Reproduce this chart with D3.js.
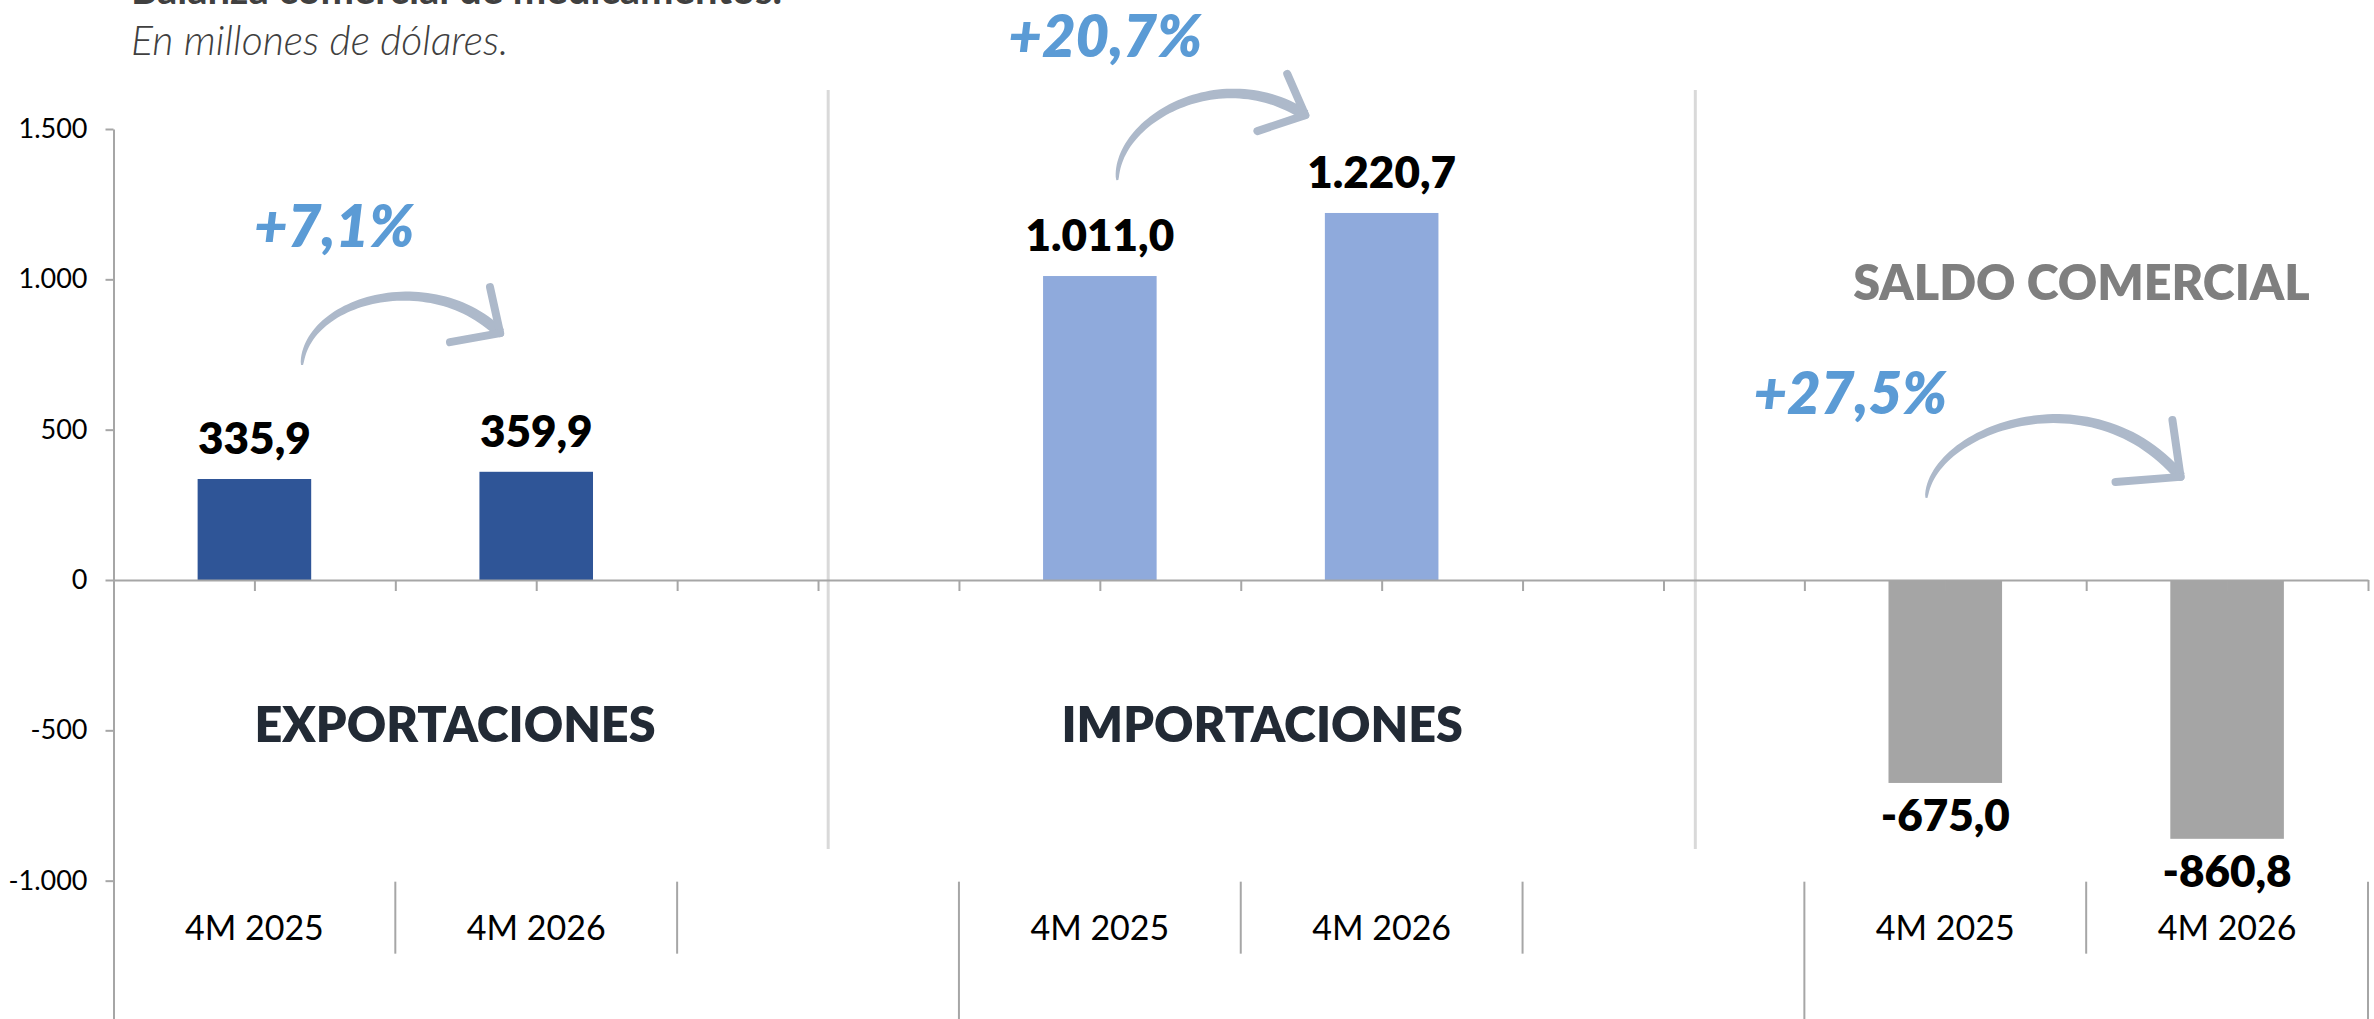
<!DOCTYPE html>
<html>
<head>
<meta charset="utf-8">
<script src="https://cdn.jsdelivr.net/npm/d3@7"></script>
<style>
  html, body { margin: 0; padding: 0; background: #fff; }
  svg { display: block; font-family: Lato, "Open Sans", sans-serif; }
</style>
</head>
<body>
<div id="chart"></div>
<script>
// data
const panels = ["EXPORTACIONES", "IMPORTACIONES", "SALDO COMERCIAL"];
const periods = ["4M 2025", "4M 2026"];
const exportaciones = [335.9, 359.9];
const importaciones = [1011.0, 1220.7];
const saldo = [-675.0, -860.8];
const variaciones = ["+7,1%", "+20,7%", "+27,5%"];
const yTicks = [-1000, -500, 0, 500, 1000, 1500];

const width = 2374;
const height = 1019;

const colors = ["#2f5597", "#8faadc", "#a5a5a5"];
const panelTitleColors = ["#222a35", "#222a35", "#7f7f7f"];

// spanish number format
const es = d3.formatLocale({ decimal: ",", thousands: ".", grouping: [3], currency: ["", ""], minus: "-" });
const fmtTick = es.format(",.0f");
const fmtVal = es.format(",.1f");

// slots: 3 per panel, last panel only has 2
const slots = [];
panels.forEach((p, i) => {
  periods.forEach(per => slots.push({ panel: i, label: per }));
  if (i < panels.length - 1) slots.push({ panel: i, label: "" });
});

const bars = [];
[exportaciones, importaciones, saldo].forEach((vals, i) => {
  vals.forEach((v, j) => bars.push({ panel: i, period: periods[j], value: v }));
});

const left = 113.5, right = 2368;
const u = d3.scaleLinear().domain([0, slots.length]).range([left, right]);
const x = d3.scaleBand().domain(d3.range(slots.length)).range([left, right]);
const y = d3.scaleLinear().domain([-1500, 1500]).range([1031, 129]);

function slotIndex(panel, period) {
  return slots.findIndex(s => s.panel === panel && s.label === period);
}

const svg = d3.select("#chart").append("svg")
  .attr("width", width)
  .attr("height", height)
  .attr("viewBox", `0 0 ${width} ${height}`);

// title (cut by the top edge, as in the source) + subtitle
svg.append("text")
  .attr("x", 131).attr("y", 4)
  .attr("fill", "#404040")
  .style("font-size", "40px").style("font-weight", 700)
  .text("Balanza comercial de medicamentos.");
svg.append("text")
  .attr("x", 131).attr("y", 55)
  .attr("fill", "#404040")
  .style("font-size", "41px").style("font-style", "italic").style("font-weight", 300)
  .text("En millones de dólares.");

// light separators between the panels (u, value)
const separators = [[2.536, 1630, -895], [5.613, 1630, -895]];
svg.append("g").selectAll("line").data(separators).join("line")
  .attr("x1", d => u(d[0])).attr("x2", d => u(d[0]))
  .attr("y1", d => y(d[1])).attr("y2", d => y(d[2]))
  .attr("stroke", "#d9d9d9").attr("stroke-width", 3);

// bars
const bw = x.bandwidth() * 0.403;
svg.append("g").selectAll("rect").data(bars).join("rect")
  .attr("x", d => x(slotIndex(d.panel, d.period)) + (x.bandwidth() - bw) / 2)
  .attr("width", bw)
  .attr("y", d => y(Math.max(0, d.value)))
  .attr("height", d => Math.abs(y(d.value) - y(0)))
  .attr("fill", d => colors[d.panel]);

// y axis
const yAxis = svg.append("g")
  .attr("transform", `translate(${left},0)`)
  .call(d3.axisLeft(y).tickValues(yTicks).tickFormat(fmtTick).tickSize(8).tickSizeOuter(0).tickPadding(18));
yAxis.select(".domain").attr("stroke", "#a6a6a6").attr("stroke-width", 2);
yAxis.selectAll(".tick line").attr("stroke", "#a6a6a6").attr("stroke-width", 2);
yAxis.selectAll(".tick text").attr("fill", "#000").style("font-size", "27px").style("font-family", "Lato, sans-serif");

// zero line with ticks every half slot
const zAxis = svg.append("g")
  .attr("transform", `translate(0,${y(0)})`)
  .call(d3.axisBottom(u).tickValues(d3.range(0, slots.length + 0.5, 0.5)).tickFormat("").tickSize(11).tickSizeOuter(0));
zAxis.select(".domain").attr("stroke", "#a6a6a6").attr("stroke-width", 2);
zAxis.selectAll(".tick line").attr("stroke", "#a6a6a6").attr("stroke-width", 2);

// category box lines under the chart
const catTop = y(-1000) + 1;
svg.append("g").selectAll("line").data(d3.range(1, slots.length + 1)).join("line")
  .attr("x1", d => u(d)).attr("x2", d => u(d))
  .attr("y1", catTop)
  .attr("y2", d => (d === slots.length || slots[d].panel !== slots[d - 1].panel) ? height : catTop + 72)
  .attr("stroke", "#a6a6a6").attr("stroke-width", 2);

svg.append("g").selectAll("text").data(slots.filter(s => s.label)).join("text")
  .attr("x", d => x(slots.indexOf(d)) + x.bandwidth() / 2)
  .attr("y", 940)
  .attr("text-anchor", "middle")
  .attr("fill", "#000")
  .style("font-size", "34px")
  .text(d => d.label);

// value labels
svg.append("g").selectAll("text").data(bars).join("text")
  .attr("x", d => x(slotIndex(d.panel, d.period)) + x.bandwidth() / 2)
  .attr("y", d => d.value >= 0 ? y(d.value) - 25 : y(d.value) + 48)
  .attr("text-anchor", "middle")
  .attr("fill", "#000")
  .style("font-size", "44px").style("font-weight", 800)
  .text(d => fmtVal(d.value));

// panel titles (u, value of baseline)
const titlePos = [[1.212, -539], [4.076, -539], [6.983, 931]];
svg.append("g").selectAll("text").data(panels).join("text")
  .attr("x", (d, i) => u(titlePos[i][0]))
  .attr("y", (d, i) => y(titlePos[i][1]))
  .attr("text-anchor", "middle")
  .attr("fill", (d, i) => panelTitleColors[i])
  .style("font-size", "48.5px").style("font-weight", 800)
  .text(d => d);

// growth labels
const varPos = [[0.783, 1107], [3.519, 1740], [6.163, 552]];
svg.append("g").selectAll("text").data(variaciones).join("text")
  .attr("x", (d, i) => u(varPos[i][0]))
  .attr("y", (d, i) => y(varPos[i][1]))
  .attr("text-anchor", "middle")
  .attr("fill", "#5b9bd5")
  .style("font-size", "58px").style("font-weight", 800).style("font-style", "italic")
  .text(d => d);

// curved arrows: start, c1, c2, tip, arm1, arm2 in (u, value)
const arrows = [
  [[0.669, 715], [0.680, 931], [1.123, 1048], [1.372, 821], [1.336, 974], [1.194, 791]],
  [[3.562, 1330], [3.555, 1530], [3.928, 1729], [4.229, 1546], [4.165, 1683], [4.059, 1493]],
  [[6.433, 273], [6.447, 499], [7.015, 698], [7.335, 343], [7.306, 532], [7.104, 326]]
];

function taperedPath(pts) {
  const P = pts.slice(0, 4).map(p => [u(p[0]), y(p[1])]);
  const bez = t => {
    const a = (1 - t) ** 3, b = 3 * (1 - t) ** 2 * t, c = 3 * (1 - t) * t * t, e = t ** 3;
    return [a * P[0][0] + b * P[1][0] + c * P[2][0] + e * P[3][0],
            a * P[0][1] + b * P[1][1] + c * P[2][1] + e * P[3][1]];
  };
  const n = 60, sideA = [], sideB = [];
  for (let i = 0; i <= n; i++) {
    const t = i / n;
    const p = bez(t), q = bez(Math.min(1, t + 0.001)), r = bez(Math.max(0, t - 0.001));
    let dx = q[0] - r[0], dy = q[1] - r[1];
    const len = Math.hypot(dx, dy) || 1;
    const w = (2 + 9 * Math.pow(t, 0.5)) / 2;
    const nx = -dy / len * w, ny = dx / len * w;
    sideA.push([p[0] + nx, p[1] + ny]);
    sideB.push([p[0] - nx, p[1] - ny]);
  }
  return d3.line()(sideA.concat(sideB.reverse())) + "Z";
}

const arrowG = svg.append("g");
arrows.forEach(a => {
  arrowG.append("path").attr("d", taperedPath(a)).attr("fill", "#adb9ca");
  const tip = [u(a[3][0]), y(a[3][1])];
  [a[4], a[5]].forEach(arm => {
    arrowG.append("line")
      .attr("x1", tip[0]).attr("y1", tip[1])
      .attr("x2", u(arm[0])).attr("y2", y(arm[1]))
      .attr("stroke", "#adb9ca").attr("stroke-width", 8).attr("stroke-linecap", "round");
  });
});
</script>
</body>
</html>
